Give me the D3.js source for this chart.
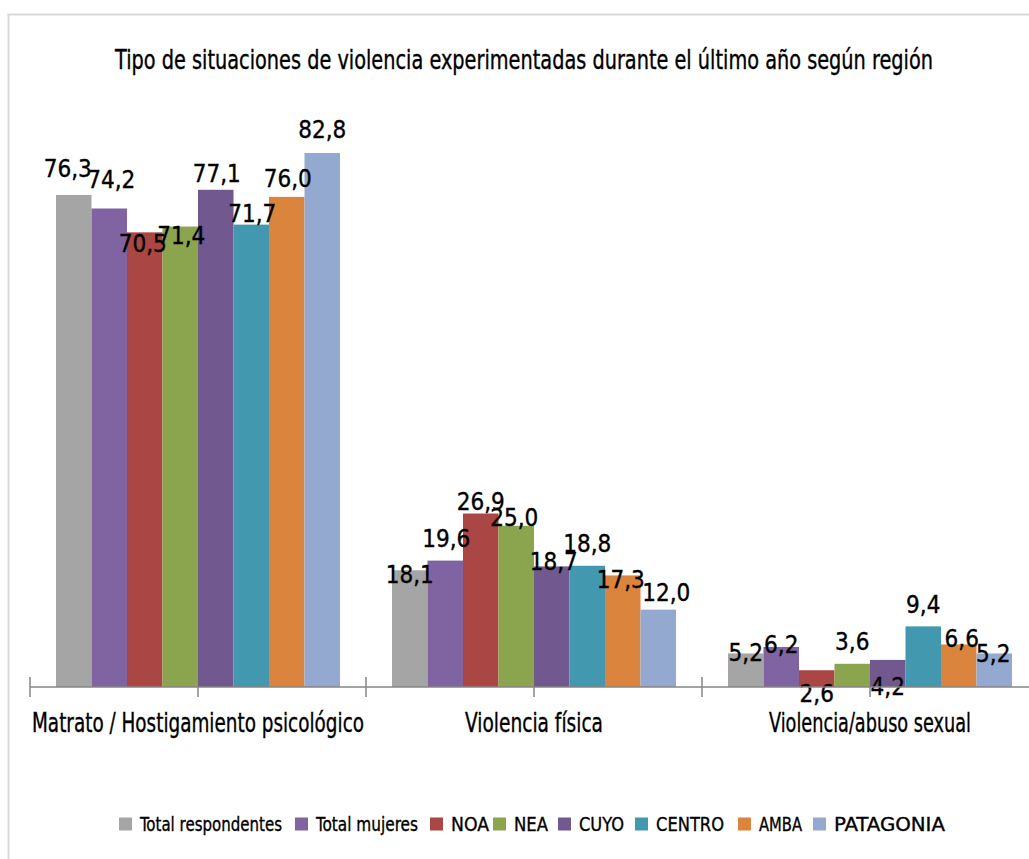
<!DOCTYPE html>
<html>
<head>
<meta charset="utf-8">
<script src="https://cdn.jsdelivr.net/npm/d3@7"></script>
<style>
  body { margin: 0; background: #fff; }
  text { font-family: "Liberation Sans Narrow", "Arial Narrow", "DejaVu Sans Condensed", sans-serif; fill: #000; stroke: #000; stroke-width: 0.35; }
  .val { font-family: "DejaVu Sans Condensed", "Liberation Sans Narrow", sans-serif; font-stretch: condensed; }
</style>
</head>
<body>
<div id="vis"></div>
<script>
// chart data
var title = "Tipo de situaciones de violencia experimentadas durante el último año según región"
var categories = ["Matrato / Hostigamiento psicológico", "Violencia física", "Violencia/abuso sexual"]
var series = ["Total respondentes", "Total mujeres", "NOA", "NEA", "CUYO", "CENTRO", "AMBA", "PATAGONIA"]
var colors = ["#a5a5a5", "#8064a2", "#aa4644", "#8ba54f", "#71588f", "#4298af", "#db843d", "#93a9cf"]

// values per series, one number per category
var totalRespondentes = [76.3, 18.1, 5.2]
var totalMujeres = [74.2, 19.6, 6.2]
var noa = [70.5, 26.9, 2.6]
var nea = [71.4, 25.0, 3.6]
var cuyo = [77.1, 18.7, 4.2]
var centro = [71.7, 18.8, 9.4]
var amba = [76.0, 17.3, 6.6]
var patagonia = [82.8, 12.0, 5.2]
var values = [totalRespondentes, totalMujeres, noa, nea, cuyo, centro, amba, patagonia]

// label nudges (Excel moved some labels by hand), [dx, dy from bar top to baseline]
var labelNudge = [
  [[-6, -18], [2, -20], [-2, 20], [1, 17], [1, -8], [1, -3], [1, -10], [0, -15]],
  [[0, 13], [1, -14], [0, -4], [-2, 0], [2, 4], [0, -14], [-2, 13], [8, -9]],
  [[0, 8], [0, 6], [0, 32], [0, -14], [0, 35], [0, -13], [3, 3], [-1, 9]]
]

var width = 1029
var height = 859

var svg = d3.select('#vis').append('svg')
  .attr('width', width)
  .attr('height', height)

// chart frame
svg.append('rect')
  .attr('x', 8.5).attr('y', 14.5)
  .attr('width', 1040).attr('height', 860)
  .attr('fill', 'none')
  .attr('stroke', '#d9d9d9')
  .attr('stroke-width', 2)

svg.append('text')
  .attr('x', 524).attr('y', 69)
  .attr('text-anchor', 'middle')
  .attr('font-size', 26)
  .attr('textLength', 818)
  .attr('lengthAdjust', 'spacingAndGlyphs')
  .text(title)

var x = d3.scaleBand().domain(d3.range(categories.length)).range([30, 1038])
var xs = d3.scaleBand().domain(d3.range(series.length)).range([26, 310])
var y = d3.scaleLinear().domain([0, 90]).range([687, 106.6])

// bars
var groups = svg.selectAll('g.cat')
  .data(categories)
  .enter().append('g')
  .attr('class', 'cat')
  .attr('transform', function(d, i){ return 'translate(' + x(i) + ',0)' })

groups.each(function(c, ci){
  var g = d3.select(this)
  var rows = series.map(function(s, si){ return {si: si, v: values[si][ci]} })
  g.selectAll('rect')
    .data(rows)
    .enter().append('rect')
    .attr('x', function(d){ return xs(d.si) })
    .attr('y', function(d){ return y(d.v) })
    .attr('width', xs.bandwidth())
    .attr('height', function(d){ return y(0) - y(d.v) })
    .attr('fill', function(d){ return colors[d.si] })
  g.selectAll('text.val')
    .data(rows)
    .enter().append('text')
    .attr('class', 'val')
    .attr('x', function(d){ return xs(d.si) + xs.bandwidth()/2 + labelNudge[ci][d.si][0] })
    .attr('y', function(d){ return y(d.v) + labelNudge[ci][d.si][1] })
    .attr('text-anchor', 'middle')
    .attr('font-size', 24)
    .text(function(d){ return d.v.toFixed(1).replace('.', ',') })
})

// category axis
var axis = svg.append('g')
axis.append('line')
  .attr('x1', 30).attr('x2', 1038)
  .attr('y1', y(0)).attr('y2', y(0))
  .attr('stroke', '#868686').attr('stroke-width', 1.5)
d3.range(categories.length + 1).forEach(function(i){
  var px = 30 + i * x.bandwidth()
  axis.append('line')
    .attr('x1', px).attr('x2', px)
    .attr('y1', y(0) - 10).attr('y2', y(0) + 10)
    .attr('stroke', '#868686').attr('stroke-width', 1.5)
})
var labelWidths = [332, 138, 202]
categories.forEach(function(c, i){
  var cx = x(i) + x.bandwidth()/2
  axis.append('line')
    .attr('x1', cx).attr('x2', cx)
    .attr('y1', y(0)).attr('y2', y(0) + 10)
    .attr('stroke', '#868686').attr('stroke-width', 1.5)
  axis.append('text')
    .attr('x', cx).attr('y', 732)
    .attr('text-anchor', 'middle')
    .attr('font-size', 26)
    .attr('textLength', labelWidths[i])
    .attr('lengthAdjust', 'spacingAndGlyphs')
    .text(c)
})

// legend
var legendX = [119, 295, 430, 493, 558, 635, 738, 813]
var legendW = [142, 102, 38, 34, 45, 68, 43, 111]
var legend = svg.append('g')
series.forEach(function(s, i){
  legend.append('rect')
    .attr('x', legendX[i]).attr('y', 817.5)
    .attr('width', 13).attr('height', 13)
    .attr('fill', colors[i])
  legend.append('text')
    .attr('x', legendX[i] + 21).attr('y', 831)
    .attr('font-size', 20)
    .attr('textLength', legendW[i])
    .attr('lengthAdjust', 'spacingAndGlyphs')
    .text(s)
})
</script>
</body>
</html>
